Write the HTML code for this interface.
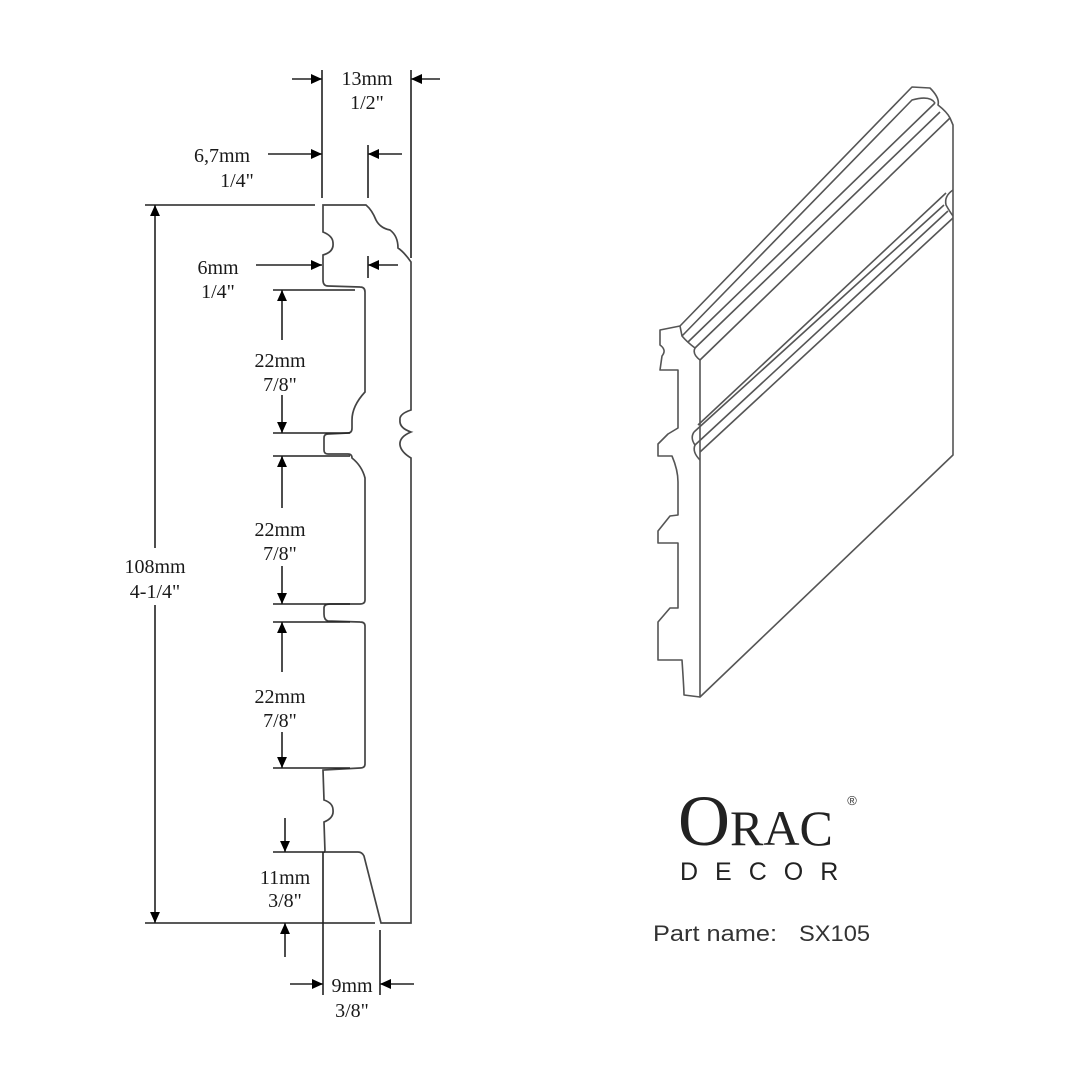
<!DOCTYPE html>
<html><head><meta charset="utf-8"><style>
html,body{margin:0;padding:0;background:#fff;}
svg{display:block}
.t{font-family:"Liberation Serif",serif;font-size:20px;fill:#1a1a1a;text-anchor:middle}
</style></head><body>
<svg width="1080" height="1080" viewBox="0 0 1080 1080" xmlns="http://www.w3.org/2000/svg">
<defs>
<marker id="a" viewBox="0 0 10 10" refX="10" refY="5" markerWidth="20" markerHeight="11" markerUnits="userSpaceOnUse" orient="auto"><path d="M0,0.5 L10,5 L0,9.5 z" fill="#000"/></marker>
</defs>
<g stroke="#444" stroke-width="1.7" fill="none">
<path d="M323,205 L366,205 Q372,210 376,220 Q380,228 390,230 Q398,236 398,248 Q404,252 411,262 L411,410 Q399,414 400,420 Q399,428 411,432 Q399,437 400,445 Q401,452 411,458 L411,923 L381,923 L364,856 Q362,852 358,852 L325,852 L324,822 Q334,818 333,810 Q333,803 324,800 L323,770 L360,768 Q365,768 365,764 L365,626 Q365,622 360,622 L328,621 Q324,620 324,614 L324,608 Q324,604 330,604 L360,604 Q365,604 365,600 L365,478 Q362,466 352,458 L352,458 Q352,454 348,454 L328,454 Q324,454 324,450 L324,438 Q324,434 328,434 L348,433 Q352,433 352,428 L352,420 Q352,406 365,392 L365,292 Q365,287 360,287 L328,286 Q323,286 323,280 L323,255 Q334,252 333,243 Q333,236 323,232 Z"/>
</g>
<g stroke="#222" stroke-width="1.6" fill="none">
<line x1="322" y1="70" x2="322" y2="198"/>
<line x1="411" y1="70" x2="411" y2="258"/>
<line x1="368" y1="145" x2="368" y2="198"/>
<line x1="368" y1="256" x2="368" y2="278"/>
<line x1="145" y1="205" x2="315" y2="205"/>
<line x1="145" y1="923" x2="375" y2="923"/>
<line x1="273" y1="290" x2="355" y2="290"/>
<line x1="273" y1="433" x2="350" y2="433"/>
<line x1="273" y1="456" x2="350" y2="456"/>
<line x1="273" y1="604" x2="350" y2="604"/>
<line x1="273" y1="622" x2="350" y2="622"/>
<line x1="273" y1="768" x2="350" y2="768"/>
<line x1="273" y1="852" x2="325" y2="852"/>
<line x1="323" y1="852" x2="323" y2="995"/>
<line x1="380" y1="930" x2="380" y2="995"/>
<line x1="292" y1="79" x2="322" y2="79" marker-end="url(#a)"/>
<line x1="440" y1="79" x2="411" y2="79" marker-end="url(#a)"/>
<line x1="268" y1="154" x2="322" y2="154" marker-end="url(#a)"/>
<line x1="402" y1="154" x2="368" y2="154" marker-end="url(#a)"/>
<line x1="256" y1="265" x2="322" y2="265" marker-end="url(#a)"/>
<line x1="398" y1="265" x2="368" y2="265" marker-end="url(#a)"/>
<line x1="155" y1="548" x2="155" y2="205" marker-end="url(#a)"/>
<line x1="155" y1="605" x2="155" y2="923" marker-end="url(#a)"/>
<line x1="282" y1="340" x2="282" y2="290" marker-end="url(#a)"/>
<line x1="282" y1="395" x2="282" y2="433" marker-end="url(#a)"/>
<line x1="282" y1="508" x2="282" y2="456" marker-end="url(#a)"/>
<line x1="282" y1="566" x2="282" y2="604" marker-end="url(#a)"/>
<line x1="282" y1="672" x2="282" y2="622" marker-end="url(#a)"/>
<line x1="282" y1="732" x2="282" y2="768" marker-end="url(#a)"/>
<line x1="285" y1="818" x2="285" y2="852" marker-end="url(#a)"/>
<line x1="285" y1="957" x2="285" y2="923" marker-end="url(#a)"/>
<line x1="290" y1="984" x2="323" y2="984" marker-end="url(#a)"/>
<line x1="414" y1="984" x2="380" y2="984" marker-end="url(#a)"/>
</g>
<g>
<text x="367" y="85" class="t">13mm</text><text x="367" y="109" class="t">1/2"</text>
<text x="222" y="162" class="t">6,7mm</text><text x="237" y="187" class="t">1/4"</text>
<text x="218" y="274" class="t">6mm</text><text x="218" y="298" class="t">1/4"</text>
<text x="280" y="367" class="t">22mm</text><text x="280" y="391" class="t">7/8"</text>
<text x="280" y="536" class="t">22mm</text><text x="280" y="560" class="t">7/8"</text>
<text x="280" y="703" class="t">22mm</text><text x="280" y="727" class="t">7/8"</text>
<text x="155" y="573" class="t">108mm</text><text x="155" y="598" class="t">4-1/4"</text>
<text x="285" y="884" class="t">11mm</text><text x="285" y="907" class="t">3/8"</text>
<text x="352" y="992" class="t">9mm</text><text x="352" y="1017" class="t">3/8"</text>
</g>
<g stroke="#555" stroke-width="1.6" fill="none" stroke-linejoin="round">
<path d="M680,326 L660,330 L660,345 Q667,350 662,356 L660,370 L678,370 L678,428 L668,434 L658,444 L658,456 L672,456 Q678,470 678,482 L678,515 L670,516 L658,531 L658,543 L678,543 L678,608 L670,608 L658,622 L658,660 L682,660 Q684,690 684,695 L700,697"/>
<path d="M680,326 L912,87 L930,88 Q940,98 938,105 Q947,112 950,118 L953,125 L953,455 L700,697 L700,360 Q692,354 695,348 Q687,342 682,336 Z"/>
<path d="M682,336 L912,100 Q930,95 935,103"/>
<path d="M688,342 L935,103"/>
<path d="M695,348 L940,112"/>
<path d="M700,360 L950,118"/>
<path d="M953,190 Q944,196 946,205 Q950,212 953,216"/>
<path d="M698,425 L946,193"/>
<path d="M694,432 L944,205"/>
<path d="M695,445 L948,211"/>
<path d="M700,452 L953,218"/>
<path d="M694,432 Q690,438 695,445 Q692,452 700,460"/>
</g>
<text x="678" y="845" font-family="Liberation Serif,serif" font-size="72" fill="#222">O<tspan font-size="50">RAC</tspan></text>
<text x="852" y="805" font-family="Liberation Sans,sans-serif" font-size="13" fill="#333" text-anchor="middle">®</text>
<text x="680" y="880" font-family="Liberation Sans,sans-serif" font-size="25" fill="#222" letter-spacing="17">DECOR</text>
<text x="653" y="941" font-family="Liberation Sans,sans-serif" font-size="22" fill="#333" textLength="124" lengthAdjust="spacingAndGlyphs">Part name:</text>
<text x="799" y="941" font-family="Liberation Sans,sans-serif" font-size="22" fill="#333" textLength="71" lengthAdjust="spacingAndGlyphs">SX105</text>
</svg>
</body></html>
